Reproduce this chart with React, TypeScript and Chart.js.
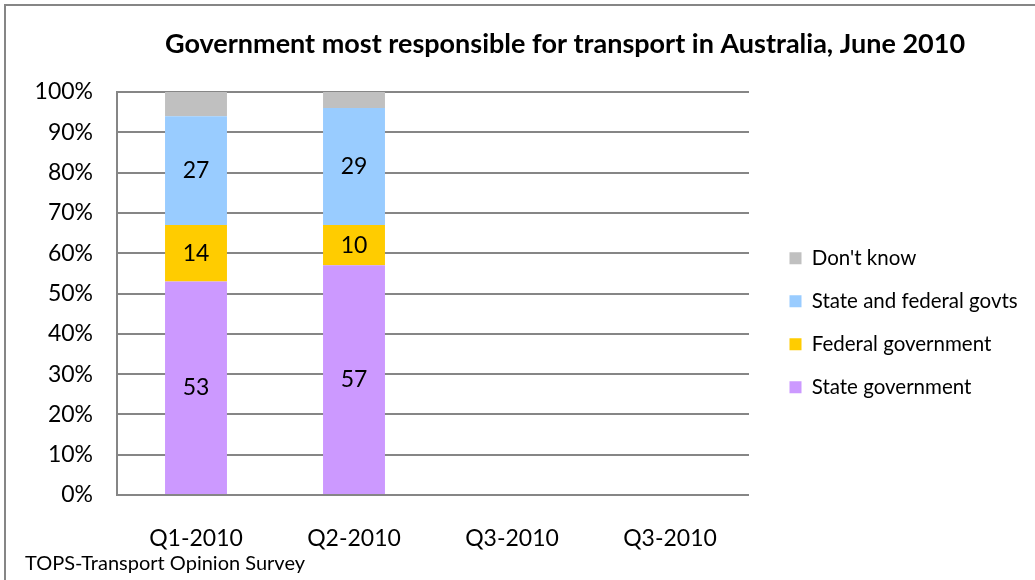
import React, { useEffect, useRef } from "react";
import { Chart, registerables } from "chart.js";

Chart.register(...registerables);

const categories = ["Q1-2010", "Q2-2010", "Q3-2010", "Q3-2010"];
const stateGovernment = [53, 57, null, null];
const federalGovernment = [14, 10, null, null];
const stateAndFederal = [27, 29, null, null];
const dontKnow = [6, 4, null, null];
const seriesNames = ["State government", "Federal government", "State and federal govts", "Don't know"];
const seriesColors = ["#CC99FF", "#FFCC00", "#99CCFF", "#C0C0C0"];
const labelledSeries = [true, true, true, false];
const titleText = "Government most responsible for transport in Australia, June 2010";
const footerText = "TOPS-Transport Opinion Survey";

const FONT = "Lato, 'Open Sans', sans-serif";
const GRID = "#868686";

const decorPlugin = {
  id: "decor",
  beforeDraw(chart: any) {
    const ctx = chart.ctx;
    ctx.save();
    ctx.fillStyle = "#ffffff";
    ctx.fillRect(0, 0, chart.width, chart.height);
    ctx.strokeStyle = GRID;
    ctx.lineWidth = 2;
    ctx.beginPath();
    ctx.moveTo(5, chart.height);
    ctx.lineTo(5, 5);
    ctx.lineTo(chart.width, 5);
    ctx.stroke();
    ctx.restore();
  },
  afterLayout(chart: any) {
    const lg = chart.legend;
    if (lg) {
      lg.left = 767;
      lg.right = 1035;
      lg.top = 225.5;
      lg.bottom = 520;
    }
  },
  afterDatasetsDraw(chart: any) {
    const ctx = chart.ctx;
    ctx.save();
    ctx.font = `23px ${FONT}`;
    ctx.fillStyle = "#000";
    ctx.textAlign = "center";
    ctx.textBaseline = "middle";
    chart.data.datasets.forEach((ds: any, i: number) => {
      if (!labelledSeries[i]) return;
      const meta = chart.getDatasetMeta(i);
      meta.data.forEach((bar: any, j: number) => {
        const v = ds.data[j];
        if (v == null) return;
        const p = bar.getProps(["x", "y", "base"], true);
        ctx.fillText(String(v), p.x, (p.y + p.base) / 2);
      });
    });
    ctx.restore();
  },
  afterDraw(chart: any) {
    const ctx = chart.ctx;
    ctx.save();
    ctx.fillStyle = "#000";
    ctx.textBaseline = "middle";
    ctx.textAlign = "center";
    ctx.font = `bold 27px ${FONT}`;
    ctx.fillText(titleText, 565, 44);
    ctx.textAlign = "left";
    ctx.font = `20px ${FONT}`;
    ctx.fillText(footerText, 25, 564);
    ctx.restore();
  },
};

export default function App() {
  const ref = useRef<HTMLCanvasElement | null>(null);
  useEffect(() => {
    if (!ref.current) return;
    Chart.defaults.font.family = FONT;
    Chart.defaults.color = "#000";
    const values = [stateGovernment, federalGovernment, stateAndFederal, dontKnow];
    const chart = new Chart(ref.current, {
      type: "bar",
      data: {
        labels: categories,
        datasets: values.map((d, i) => ({
          label: seriesNames[i],
          data: d,
          backgroundColor: seriesColors[i],
          borderWidth: 0,
          categoryPercentage: 1,
          barPercentage: 0.392,
        })),
      },
      options: {
        responsive: false,
        animation: false,
        layout: { padding: { top: 92, left: 0, right: 86, bottom: 0 } },
        plugins: {
          legend: {
            position: "right",
            align: "start",
            reverse: true,
            maxWidth: 200,
            labels: {
              boxWidth: 12,
              boxHeight: 12,
              padding: 22.5,
              color: "#000",
              font: { size: 20.5, family: FONT },
            },
          },
          title: { display: false },
          tooltip: { enabled: false },
        },
        scales: {
          x: {
            stacked: true,
            grid: { display: false, drawTicks: false },
            border: { display: false },
            ticks: { padding: 30, color: "#000", font: { size: 23, family: FONT } },
            afterFit: (s: any) => {
              s.height = 85;
            },
          },
          y: {
            stacked: true,
            min: 0,
            max: 100,
            ticks: {
              stepSize: 10,
              padding: 24,
              color: "#000",
              font: { size: 23, family: FONT },
              callback: (v: any) => `${v}%`,
            },
            grid: { color: GRID, lineWidth: 2, drawTicks: false },
            border: { display: true, color: GRID, width: 2 },
            afterFit: (s: any) => {
              s.width = 117;
            },
          },
        },
      },
      plugins: [decorPlugin],
    } as any);
    return () => chart.destroy();
  }, []);
  return (
    <div style={{ position: "fixed", left: 0, top: 0, width: 1035, height: 580, background: "#fff" }}>
      <canvas ref={ref} width={1035} height={580} style={{ display: "block" }} />
    </div>
  );
}
